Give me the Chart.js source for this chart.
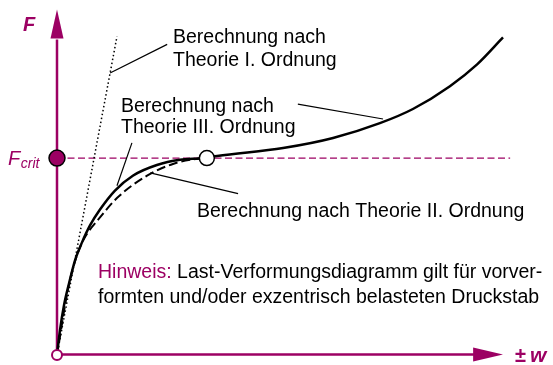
<!DOCTYPE html>
<html>
<head>
<meta charset="utf-8">
<script src="https://cdn.jsdelivr.net/npm/chart.js@4"></script>
<style>
html,body{margin:0;padding:0;background:#fff;}
canvas{display:block;}
</style>
</head>
<body>
<canvas id="c" width="553" height="365"></canvas>
<script>
// ---- data (relative units: w 0..100, F 0..100) ----
const F_CRIT = 57;
const theoryI_w = [0, 13.45];
const theoryI_F = [0, 92.2];
const theoryIII_w = [0, 0.67, 1.57, 2.69, 4.04, 5.61, 7.4, 9.64, 13.0, 17.0, 22.4, 27.6, 32.1, 33.6, 35.9, 50.7, 61.9, 72.4, 79.8, 88.1, 94.2, 100];
const theoryIII_F = [0, 7.2, 14.4, 20.7, 27.4, 32.6, 37.5, 42.1, 47.6, 51.9, 55.0, 56.5, 56.9, 57.1, 57.6, 59.9, 62.8, 67.1, 71.2, 77.8, 84.1, 91.9];
const theoryII_w = [0, 0.9, 1.8, 2.9, 4.26, 5.83, 9.64, 13.5, 20.2, 26.0, 31.4, 33.6];
const theoryII_F = [0, 7.2, 14.4, 21.6, 28.0, 33.1, 39.8, 45.5, 51.9, 55.3, 56.8, 57.1];
const fcritLine_w = [0, 101.6];
const bifurcation_w = [33.6];
// leader lines for labels: [w1, F1, w2, F2]
const leaderI = [11.9, 81.6, 24.7, 89.9];
const leaderIIIa = [13.45, 49.0, 16.8, 61.4];
const leaderIIIb = [54.0, 72.6, 73.1, 68.3];
const leaderII = [20.9, 52.7, 40.6, 46.7];
// labels
const labelI = ["Berechnung nach", "Theorie I. Ordnung"];
const labelIII = ["Berechnung nach", "Theorie III. Ordnung"];
const labelII = "Berechnung nach Theorie II. Ordnung";
const noteHead = "Hinweis:";
const noteLines = [" Last-Verformungsdiagramm gilt für vorver-", "formten und/oder exzentrisch belasteten Druckstab"];
const axisY = "F";
const axisX = ["±", "w"];
const critLabel = ["F", "crit"];

const MAG = '#9c0063';
const FONT = '"Liberation Sans", Arial, sans-serif';

function pts(xs, ys){ return xs.map((x,i)=>({x:x, y:ys[i]})); }
function seg(a){ return [{x:a[0],y:a[1]},{x:a[2],y:a[3]}]; }

const lineBase = {showLine:true, pointRadius:0, fill:false, tension:0, clip:false};

const datasets = [
  {data:[{x:0,y:F_CRIT}], pointRadius:8, pointBackgroundColor:MAG, pointBorderColor:'#000', pointBorderWidth:1.5, showLine:false, order:0, clip:false},
  {data:pts(bifurcation_w,[F_CRIT]), pointRadius:7.5, pointBackgroundColor:'#fff', pointBorderColor:'#000', pointBorderWidth:1.5, showLine:false, order:0, clip:false},
  {data:[{x:0,y:0}], pointRadius:5, pointBackgroundColor:'#fff', pointBorderColor:MAG, pointBorderWidth:2, showLine:false, order:0, clip:false},
  Object.assign({}, lineBase, {data:pts(theoryIII_w, theoryIII_F), borderColor:'#000', borderWidth:2.5, cubicInterpolationMode:'monotone', order:1}),
  Object.assign({}, lineBase, {data:pts(theoryII_w, theoryII_F), borderColor:'#000', borderWidth:2, borderDash:[9,4], cubicInterpolationMode:'monotone', order:2}),
  Object.assign({}, lineBase, {data:pts(theoryI_w, theoryI_F), borderColor:'#000', borderWidth:1.5, borderDash:[1.5,2.5], order:3}),
  Object.assign({}, lineBase, {data:pts(fcritLine_w,[F_CRIT,F_CRIT]), borderColor:MAG, borderWidth:1.3, borderDash:[7,3.5], order:5}),
  Object.assign({}, lineBase, {data:seg(leaderI), borderColor:'#000', borderWidth:1.2, order:4}),
  Object.assign({}, lineBase, {data:seg(leaderIIIa), borderColor:'#000', borderWidth:1.2, order:4}),
  Object.assign({}, lineBase, {data:seg(leaderIIIb), borderColor:'#000', borderWidth:1.2, order:4}),
  Object.assign({}, lineBase, {data:seg(leaderII), borderColor:'#000', borderWidth:1.2, order:4})
];

const axesPlugin = {
  id:'axes',
  beforeDatasetsDraw(chart){
    const {ctx, scales:{x,y}} = chart;
    const x0 = x.getPixelForValue(0), y0 = y.getPixelForValue(0);
    const yTip = y.getPixelForValue(100), yBase = y.getPixelForValue(91.6);
    const xTip = x.getPixelForValue(100), xBase = x.getPixelForValue(93.3);
    ctx.save();
    ctx.strokeStyle = MAG; ctx.fillStyle = MAG; ctx.lineWidth = 2.5;
    ctx.beginPath(); ctx.moveTo(x0, y0); ctx.lineTo(x0, yBase+1); ctx.stroke();
    ctx.beginPath(); ctx.moveTo(x0, y0-0.5); ctx.lineTo(xBase+1, y0-0.5); ctx.stroke();
    ctx.beginPath(); ctx.moveTo(x0, yTip); ctx.lineTo(x0-6.5, yBase); ctx.lineTo(x0+6.5, yBase); ctx.closePath(); ctx.fill();
    ctx.beginPath(); ctx.moveTo(xTip, y0-0.5); ctx.lineTo(xBase, y0-7.5); ctx.lineTo(xBase, y0+6.5); ctx.closePath(); ctx.fill();
    ctx.restore();
  },
  afterDatasetsDraw(chart){
    const ctx = chart.ctx;
    ctx.save();
    ctx.textBaseline = 'alphabetic';
    ctx.textAlign = 'left';
    ctx.fillStyle = '#000';
    ctx.font = '19.5px ' + FONT;
    ctx.fillText(labelI[0], 173, 43);
    ctx.fillText(labelI[1], 173, 66);
    ctx.fillText(labelIII[0], 121, 111.5);
    ctx.fillText(labelIII[1], 121, 133);
    ctx.fillText(labelII, 197, 217);
    ctx.fillStyle = MAG;
    ctx.fillText(noteHead, 98, 278);
    const hw = ctx.measureText(noteHead).width;
    ctx.fillStyle = '#000';
    ctx.fillText(noteLines[0], 98 + hw, 278);
    ctx.fillText(noteLines[1], 98, 303);
    // axis labels
    ctx.fillStyle = MAG;
    ctx.font = 'italic bold 20px ' + FONT;
    ctx.fillText(axisY, 23, 31);
    ctx.font = 'bold 20px ' + FONT;
    ctx.fillText(axisX[0], 515, 362);
    const pw = ctx.measureText(axisX[0]).width;
    ctx.font = 'italic bold 21px ' + FONT;
    ctx.fillText(axisX[1], 515 + pw + 4, 362);
    ctx.font = 'italic 20px ' + FONT;
    ctx.fillText(critLabel[0], 8, 165);
    const fw = ctx.measureText(critLabel[0]).width;
    ctx.font = 'italic 14px ' + FONT;
    ctx.fillText(critLabel[1], 8 + fw + 0.5, 168);
    ctx.restore();
  }
};

new Chart(document.getElementById('c'), {
  type:'scatter',
  data:{datasets},
  options:{
    responsive:false,
    devicePixelRatio:1,
    animation:false,
    layout:{padding:{left:57, right:50, top:8, bottom:10}},
    plugins:{legend:{display:false}, tooltip:{enabled:false}},
    scales:{
      x:{type:'linear', min:0, max:100, display:false},
      y:{type:'linear', min:0, max:100, display:false}
    }
  },
  plugins:[axesPlugin]
});
</script>
</body>
</html>
